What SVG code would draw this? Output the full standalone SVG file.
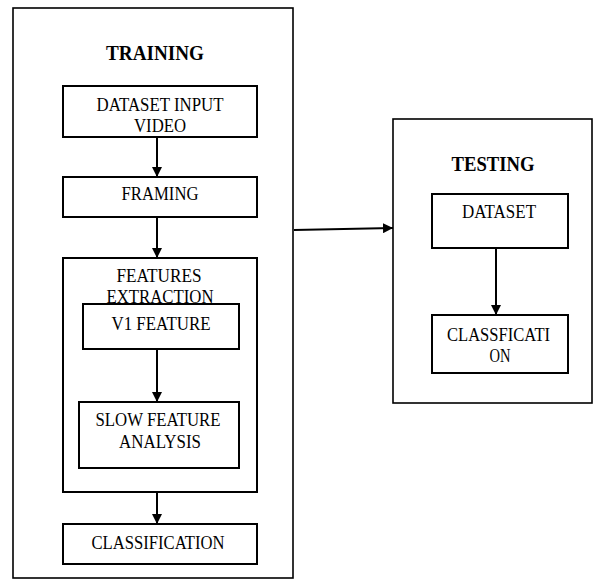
<svg xmlns="http://www.w3.org/2000/svg" width="596" height="579" viewBox="0 0 596 579">
  <style>
    .box { fill: #fff; stroke: #000; stroke-width: 2; }
    .frame { fill: #fff; stroke: #000; stroke-width: 1.6; }
    .lbl { font-family: "Liberation Serif", "Times New Roman", serif; font-size: 18.5px; fill: #000; text-anchor: middle; }
    .ttl { font-family: "Liberation Serif", "Times New Roman", serif; font-size: 22px; font-weight: bold; fill: #000; text-anchor: middle; }
    .conn { stroke: #000; stroke-width: 2; fill: none; marker-end: url(#arrow); }
  </style>
  <defs>
    <marker id="arrow" viewBox="0 0 10 10" refX="10" refY="5" markerWidth="5" markerHeight="5" markerUnits="strokeWidth" orient="auto">
      <path d="M0,0 L10,5 L0,10 Z" fill="#000"/>
    </marker>
  </defs>

  <g id="training">
    <rect class="frame" x="13" y="8" width="280" height="570"/>
    <text class="ttl" x="155" y="60" textLength="98" lengthAdjust="spacingAndGlyphs">TRAINING</text>
  </g>

  <g id="testing">
    <rect class="frame" x="393" y="119" width="199" height="284"/>
    <text class="ttl" x="493" y="171" textLength="83" lengthAdjust="spacingAndGlyphs">TESTING</text>
  </g>

  <g id="dataset-input-video">
    <rect class="box" x="63" y="86" width="194" height="51"/>
    <text class="lbl" x="160" y="111" textLength="127" lengthAdjust="spacingAndGlyphs">DATASET INPUT</text>
    <text class="lbl" x="160" y="132" textLength="52" lengthAdjust="spacingAndGlyphs">VIDEO</text>
  </g>

  <g id="framing">
    <rect class="box" x="63" y="177" width="194" height="40"/>
    <text class="lbl" x="160" y="200" textLength="77" lengthAdjust="spacingAndGlyphs">FRAMING</text>
  </g>

  <g id="features-extraction">
    <rect class="box" x="63" y="258" width="194" height="234"/>
    <text class="lbl" x="159" y="282" textLength="85" lengthAdjust="spacingAndGlyphs">FEATURES</text>
    <text class="lbl" x="160" y="303" textLength="107" lengthAdjust="spacingAndGlyphs">EXTRACTION</text>
  </g>

  <g id="v1-feature">
    <rect class="box" x="83" y="304" width="156" height="45"/>
    <text class="lbl" x="161" y="330" textLength="99" lengthAdjust="spacingAndGlyphs">V1 FEATURE</text>
  </g>

  <g id="slow-feature-analysis">
    <rect class="box" x="79" y="402" width="160" height="66"/>
    <text class="lbl" x="158" y="426" textLength="125" lengthAdjust="spacingAndGlyphs">SLOW FEATURE</text>
    <text class="lbl" x="160" y="448" textLength="82" lengthAdjust="spacingAndGlyphs">ANALYSIS</text>
  </g>

  <g id="classification">
    <rect class="box" x="63" y="524" width="194" height="40"/>
    <text class="lbl" x="158" y="549" textLength="133" lengthAdjust="spacingAndGlyphs">CLASSIFICATION</text>
  </g>

  <g id="dataset">
    <rect class="box" x="432" y="194" width="136" height="54"/>
    <text class="lbl" x="499" y="218" textLength="74" lengthAdjust="spacingAndGlyphs">DATASET</text>
  </g>

  <g id="classfication">
    <rect class="box" x="432" y="315" width="136" height="58"/>
    <text class="lbl" x="498.5" y="341" textLength="103" lengthAdjust="spacingAndGlyphs">CLASSFICATI</text>
    <text class="lbl" x="500" y="362" textLength="21" lengthAdjust="spacingAndGlyphs">ON</text>
  </g>

  <g id="connectors">
    <line class="conn" x1="157" y1="137" x2="157" y2="177"/>
    <line class="conn" x1="157" y1="217" x2="157" y2="258"/>
    <line class="conn" x1="157" y1="349" x2="157" y2="402"/>
    <line class="conn" x1="157" y1="492" x2="157" y2="524"/>
    <line class="conn" x1="294" y1="230" x2="393" y2="228"/>
    <line class="conn" x1="496" y1="248" x2="496" y2="315"/>
  </g>
</svg>
